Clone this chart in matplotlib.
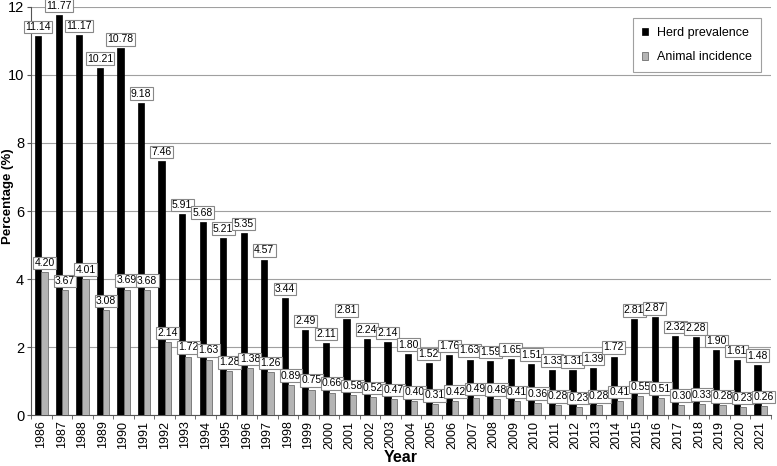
import matplotlib
matplotlib.use("Agg")
import matplotlib.pyplot as plt
import numpy as np

plt.rcParams['font.family'] = ['Liberation Sans', 'DejaVu Sans']

years = [str(y) for y in range(1986, 2022)]
herd = [11.14, 11.77, 11.17, 10.21, 10.78, 9.18, 7.46, 5.91, 5.68, 5.21, 5.35, 4.57,
        3.44, 2.49, 2.11, 2.81, 2.24, 2.14, 1.80, 1.52, 1.76, 1.63, 1.59, 1.65,
        1.51, 1.33, 1.31, 1.39, 1.72, 2.81, 2.87, 2.32, 2.28, 1.90, 1.61, 1.48]
animal = [4.20, 3.67, 4.01, 3.08, 3.69, 3.68, 2.14, 1.72, 1.63, 1.28, 1.38, 1.26,
          0.89, 0.75, 0.66, 0.58, 0.52, 0.47, 0.40, 0.31, 0.42, 0.49, 0.48, 0.41,
          0.36, 0.28, 0.23, 0.28, 0.41, 0.55, 0.51, 0.30, 0.33, 0.28, 0.23, 0.26]

fig = plt.figure(figsize=(7.77, 4.66), dpi=100)
ax = fig.add_axes([0.040, 0.1094, 0.952, 0.8756])

x = np.arange(len(years))
w = 0.3
ax.bar(x - w / 2, herd, w, color="black", edgecolor="black", linewidth=0.5,
       label="Herd prevalence", zorder=3)
ax.bar(x + w / 2, animal, w, color="#b4b4b4", edgecolor="#6e6e6e", linewidth=0.6,
       label="Animal incidence", zorder=3)

bbox = dict(boxstyle="square,pad=0.12", fc="white", ec="#888888", lw=0.8)
for xi, v in zip(x, herd):
    ax.annotate(f"{v:.2f}", (xi - w / 2, v), xytext=(0, 3), textcoords="offset points",
                ha="center", va="bottom", fontsize=7.5, bbox=bbox, zorder=5)
for xi, v in zip(x, animal):
    ax.annotate(f"{v:.2f}", (xi + w / 2, v), xytext=(0, 3), textcoords="offset points",
                ha="center", va="bottom", fontsize=7.5, bbox=bbox, zorder=5)

ax.set_xlim(-0.5, len(years) - 0.5)
ax.set_ylim(0, 12)
ax.set_yticks(range(0, 13, 2))
ax.yaxis.grid(True, color="#a0a0a0", linewidth=0.8, zorder=0)
ax.set_axisbelow(True)
ax.set_xticks(x)
ax.set_xticklabels(years, rotation=90, fontsize=9)
ax.set_xticks(np.arange(-0.5, len(years), 1), minor=True)
ax.tick_params(axis="x", which="major", length=0, pad=4)
ax.tick_params(axis="x", which="minor", length=3, color="#555555")
ax.tick_params(axis="y", labelsize=10.5, length=3, color="#555555", pad=2)
for s in ["top", "right"]:
    ax.spines[s].set_visible(False)
ax.spines["left"].set_color("#555555")
ax.spines["bottom"].set_color("#555555")

ax.set_xlabel("Year", fontsize=11.5, fontweight="bold")
ax.xaxis.set_label_coords(0.499, -0.103)
ax.xaxis.label.set_va("center")
ax.set_ylabel("Percentage (%)", fontsize=9.5, fontweight="bold")
ax.yaxis.set_label_coords(-0.031, 0.537)
ax.yaxis.label.set_va("center")

leg = ax.legend(loc="upper right", bbox_to_anchor=(0.995, 0.988), fontsize=9,
                frameon=True, fancybox=False, edgecolor="#888888",
                handlelength=0.5, handleheight=0.5, handletextpad=0.7,
                borderpad=0.7, labelspacing=1.0)
leg.get_frame().set_linewidth(0.8)

fig.savefig("out.png", dpi=100)
